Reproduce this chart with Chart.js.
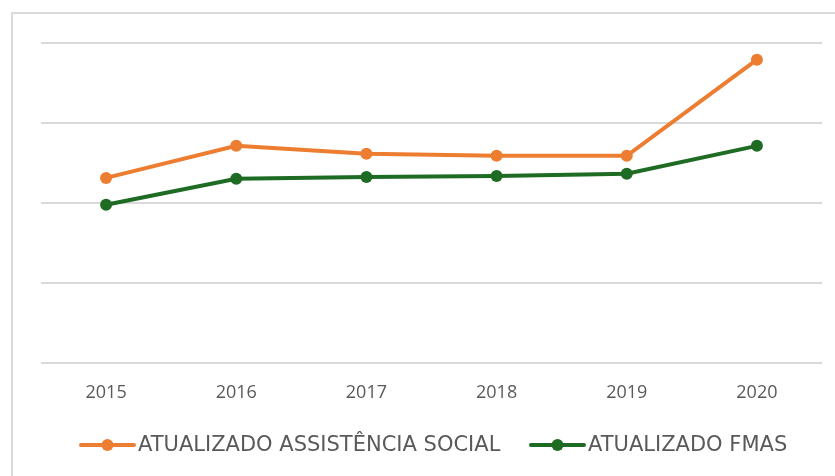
<!DOCTYPE html>
<html>
<head>
<meta charset="utf-8">
<script src="https://cdn.jsdelivr.net/npm/chart.js@4/dist/chart.umd.min.js"></script>
<style>
html,body{margin:0;padding:0;background:#fff;}
#wrap{position:relative;width:835px;height:476px;}
</style>
</head>
<body>
<div id="wrap"><canvas id="c" width="835" height="476"></canvas></div>
<script>
const years = ['2015','2016','2017','2018','2019','2020'];
const assistenciaSocial = [57.9, 67.9, 65.4, 64.8, 64.8, 94.8];
const fmas = [49.5, 57.6, 58.2, 58.5, 59.2, 67.9];
const seriesLabels = ['ATUALIZADO ASSISTÊNCIA SOCIAL', 'ATUALIZADO FMAS'];
const seriesColors = ['#ED7D31', '#1E6B24'];

const FONT = '"Open Sans", "Liberation Sans", Arial, sans-serif';
const LEGEND_FONT = '"DejaVu Sans", "Open Sans", sans-serif';
const TEXT = '#595959';

const framePlugin = {
  id: 'frame',
  beforeDraw(chart) {
    const ctx = chart.ctx;
    ctx.save();
    ctx.fillStyle = '#fff';
    ctx.fillRect(0, 0, chart.width, chart.height);
    ctx.strokeStyle = '#d9d9d9';
    ctx.lineWidth = 2;
    ctx.strokeRect(12, 13, 900, 600);
    ctx.restore();
  }
};

const legendPlugin = {
  id: 'customLegend',
  afterDraw(chart) {
    const ctx = chart.ctx;
    ctx.save();
    ctx.font = '21px ' + LEGEND_FONT;
    ctx.textBaseline = 'middle';
    const y = 445;
    const xs = [79, 529];
    chart.data.datasets.forEach((ds, i) => {
      const x = xs[i];
      ctx.strokeStyle = ds.borderColor;
      ctx.lineWidth = 4;
      ctx.lineCap = 'round';
      ctx.beginPath();
      ctx.moveTo(x + 2, y);
      ctx.lineTo(x + 55, y);
      ctx.stroke();
      ctx.fillStyle = ds.borderColor;
      ctx.beginPath();
      ctx.arc(x + 28.5, y, 6, 0, Math.PI * 2);
      ctx.fill();
      ctx.fillStyle = TEXT;
      ctx.fillText(ds.label, x + 59, y + 1);
    });
    ctx.restore();
  }
};

new Chart(document.getElementById('c'), {
  type: 'line',
  data: {
    labels: years,
    datasets: [
      { label: seriesLabels[0], data: assistenciaSocial, borderColor: seriesColors[0], backgroundColor: seriesColors[0],
        borderWidth: 4, pointRadius: 6, pointHoverRadius: 6, pointBorderWidth: 0, tension: 0 },
      { label: seriesLabels[1], data: fmas, borderColor: seriesColors[1], backgroundColor: seriesColors[1],
        borderWidth: 4, pointRadius: 6, pointHoverRadius: 6, pointBorderWidth: 0, tension: 0 }
    ]
  },
  options: {
    responsive: false,
    animation: false,
    devicePixelRatio: 1,
    layout: { padding: { left: 41, right: 13, top: 43, bottom: 53 } },
    plugins: { legend: { display: false }, tooltip: { enabled: false } },
    scales: {
      x: {
        offset: true,
        grid: { display: false, drawTicks: false },
        border: { display: false },
        ticks: { color: TEXT, font: { family: FONT, size: 18 }, padding: 19 }
      },
      y: {
        min: 0, max: 100,
        grid: { color: '#d9d9d9', lineWidth: 2, drawTicks: false },
        border: { display: false },
        ticks: { display: false, stepSize: 25 }
      }
    }
  },
  plugins: [framePlugin, legendPlugin]
});
</script>
</body>
</html>
